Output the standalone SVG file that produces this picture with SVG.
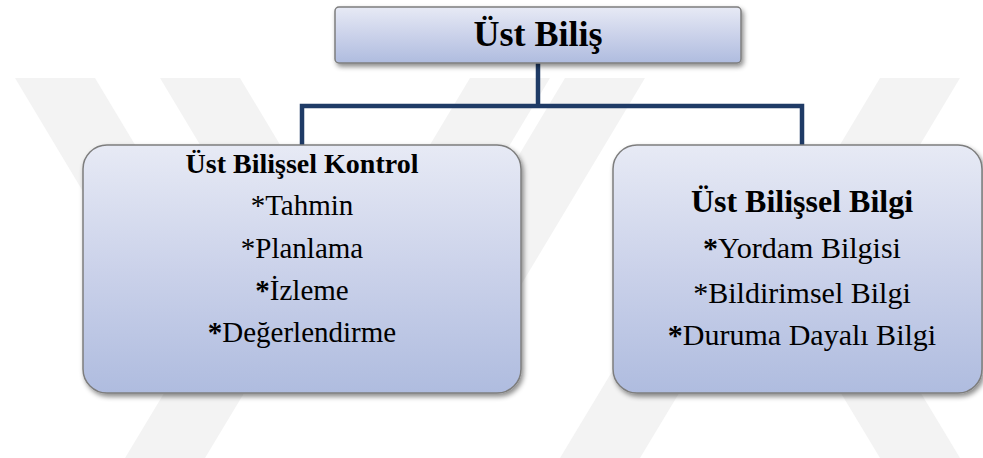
<svg xmlns="http://www.w3.org/2000/svg" width="983" height="458" viewBox="0 0 983 458">
<defs>
<linearGradient id="g" x1="0" y1="0" x2="0" y2="1">
<stop offset="0" stop-color="#e7eaf5"/>
<stop offset="0.5" stop-color="#cbd2ea"/>
<stop offset="1" stop-color="#afbcdf"/>
</linearGradient>
<filter id="sh" x="-10%" y="-10%" width="125%" height="130%">
<feDropShadow dx="2" dy="3" stdDeviation="2.5" flood-color="#000" flood-opacity="0.45"/>
</filter>
<style>
.box{fill:url(#g);stroke:#7d7d7d;stroke-width:1.5;filter:url(#sh)}
.conn{fill:none;stroke:#1f3b66;stroke-width:4.5;stroke-linejoin:miter}
.wm{fill:#f3f3f3}
text{font-family:'Liberation Serif','Times New Roman',serif;text-anchor:middle;fill:#000}
.bd{font-weight:bold}
</style>
</defs>
<rect width="983" height="458" fill="#fff"/>
<g id="watermark">
<polygon class="wm" points="15,78 95,78 228,300 148,300"/>
<polygon class="wm" points="160,78 240,78 373,300 293,300"/>
<polygon class="wm" points="470,78 550,78 417,300 337,300"/>
<polygon class="wm" points="565,78 645,78 512,300 432,300"/>
<polygon class="wm" points="880,78 960,78 827,300 747,300"/>
<polygon class="wm" points="125,458 205,458 270,350 190,350"/>
<polygon class="wm" points="560,458 640,458 705,350 625,350"/>
<polygon class="wm" points="880,458 960,458 895,350 815,350"/>
</g>
<g id="connectors">
<path class="conn" d="M538,63 V106"/>
<path class="conn" d="M302,146 V106 H802 V146"/>
</g>
<g id="node-top">
<rect class="box" x="335" y="7" width="406" height="56" rx="4"/>
<text class="bd" x="538" y="46" font-size="36">Üst Biliş</text>
</g>
<g id="node-control">
<rect class="box" x="83" y="145" width="438" height="248" rx="24"/>
<text class="bd" x="302" y="173" font-size="28">Üst Bilişsel Kontrol</text>
<text x="302" y="215" font-size="29">*Tahmin</text>
<text x="302" y="258" font-size="29">*Planlama</text>
<text x="302" y="300" font-size="29"><tspan class="bd">*</tspan>İzleme</text>
<text x="302" y="342" font-size="29"><tspan class="bd">*</tspan>Değerlendirme</text>
</g>
<g id="node-knowledge">
<rect class="box" x="613" y="145" width="369" height="248" rx="24"/>
<text class="bd" x="802" y="212" font-size="32">Üst Bilişsel Bilgi</text>
<text x="802" y="258" font-size="30"><tspan class="bd">*</tspan>Yordam Bilgisi</text>
<text x="802" y="303" font-size="30">*Bildirimsel Bilgi</text>
<text x="802" y="345" font-size="30"><tspan class="bd">*</tspan>Duruma Dayalı Bilgi</text>
</g>
</svg>
